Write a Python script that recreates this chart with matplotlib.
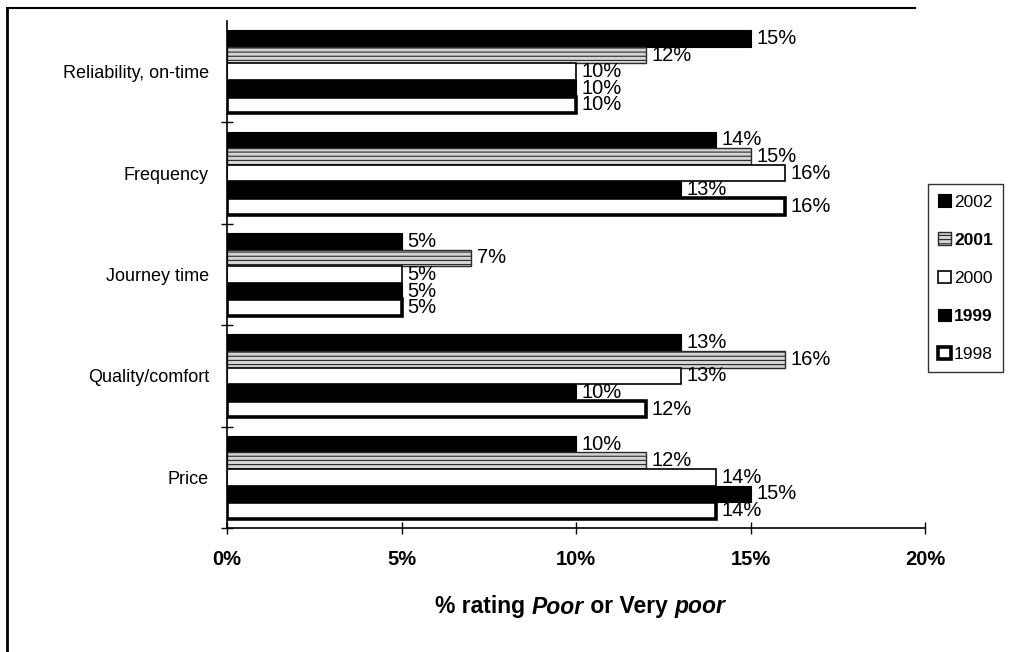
import matplotlib
matplotlib.use("Agg")
import matplotlib.pyplot as plt
import numpy as np
from matplotlib.lines import Line2D
from matplotlib.patches import Patch
from matplotlib.offsetbox import TextArea, HPacker, AnnotationBbox

plt.rcParams['font.family'] = ['Liberation Sans', 'DejaVu Sans']
plt.rcParams['hatch.linewidth'] = 0.8

# Attributes, top to bottom
categories = ["Reliability, on-time", "Frequency", "Journey time",
              "Quality/comfort", "Price"]
years = ["2002", "2001", "2000", "1999", "1998"]

# % rating Poor or Very poor, per attribute (same order as categories)
vals_2002 = [15, 14, 5, 13, 10]
vals_2001 = [12, 15, 7, 16, 12]
vals_2000 = [10, 16, 5, 13, 14]
vals_1999 = [10, 13, 5, 10, 15]
vals_1998 = [10, 16, 5, 12, 14]

xticks = [0, 5, 10, 15, 20]
xtick_labels = ["0%", "5%", "10%", "15%", "20%"]

series = [vals_2002, vals_2001, vals_2000, vals_1999, vals_1998]
styles = [
    dict(facecolor="black", edgecolor="black", linewidth=0.8),
    dict(facecolor="#d4d4d4", edgecolor="#2a2a2a", linewidth=1.0, hatch="----"),
    dict(facecolor="white", edgecolor="black", linewidth=1.2),
    dict(facecolor="black", edgecolor="black", linewidth=0.8),
    dict(facecolor="white", edgecolor="black", linewidth=2.6),
]

fig = plt.figure(figsize=(10.16, 6.52), dpi=100)
ax = fig.add_axes([227 / 1016, 1 - 528 / 652, 698 / 1016, 507 / 652])

y = np.arange(len(categories))
h = 0.164
for i, (vals, st) in enumerate(zip(series, styles)):
    pos = y + (i - 2) * h
    ax.barh(pos, vals, height=h, **st)
    for p, v in zip(pos, vals):
        ax.annotate(f"{v}%", xy=(v, p), xytext=(4, 0), textcoords="offset points",
                    ha="left", va="center", fontsize=14.5)

ax.set_xlim(0, 20)
ax.set_ylim(len(categories) - 0.5, -0.5)
ax.set_xticks(xticks)
ax.set_xticklabels(xtick_labels, fontsize=14.5, fontweight="bold")
ax.tick_params(axis="x", direction="inout", length=8, width=1.0, pad=12)
ax.set_yticks(y)
ax.set_yticklabels(categories, fontsize=13)
ax.tick_params(axis="y", which="major", length=0, pad=13)
ax.set_yticks(np.arange(0.5, len(categories), 1.0), minor=True)
ax.tick_params(axis="y", which="minor", direction="inout", length=8, width=1.0)

for s in ("top", "right"):
    ax.spines[s].set_visible(False)
for s in ("left", "bottom"):
    ax.spines[s].set_linewidth(1.2)

# Axis title with italic emphasis
parts = [("% rating ", "normal"), ("Poor", "italic"), (" or Very ", "normal"),
         ("poor", "italic")]
boxes = [TextArea(t, textprops=dict(fontsize=16.5, fontweight="bold", fontstyle=st))
         for t, st in parts]
pack = HPacker(children=boxes, align="baseline", pad=0, sep=0)
ab = AnnotationBbox(pack, (580 / 1016, 1 - 607 / 652), xycoords="figure fraction",
                    frameon=False, box_alignment=(0.5, 0.5))
fig.add_artist(ab)

# Legend
handles = [Patch(**st) for st in styles]
leg = fig.legend(handles, years, loc="upper left",
                 bbox_to_anchor=(928 / 1016, 1 - 184 / 652),
                 bbox_transform=fig.transFigure, borderaxespad=0,
                 fontsize=12.5, frameon=True, fancybox=False, edgecolor="black",
                 handlelength=0.7, handleheight=0.7, handletextpad=0.2,
                 labelspacing=1.32, borderpad=0.6)
leg.get_frame().set_linewidth(1.0)
for txt in leg.get_texts():
    if txt.get_text() in ("2001", "1999"):
        txt.set_fontweight("bold")

# Outer border lines
fig.add_artist(Line2D([7 / 1016, 7 / 1016], [1 - 8 / 652, 0], color="black",
                      linewidth=2.0, transform=fig.transFigure))
fig.add_artist(Line2D([7 / 1016, 915 / 1016], [1 - 8 / 652, 1 - 8 / 652],
                      color="black", linewidth=1.5, transform=fig.transFigure))

fig.savefig("out.png", dpi=100)
